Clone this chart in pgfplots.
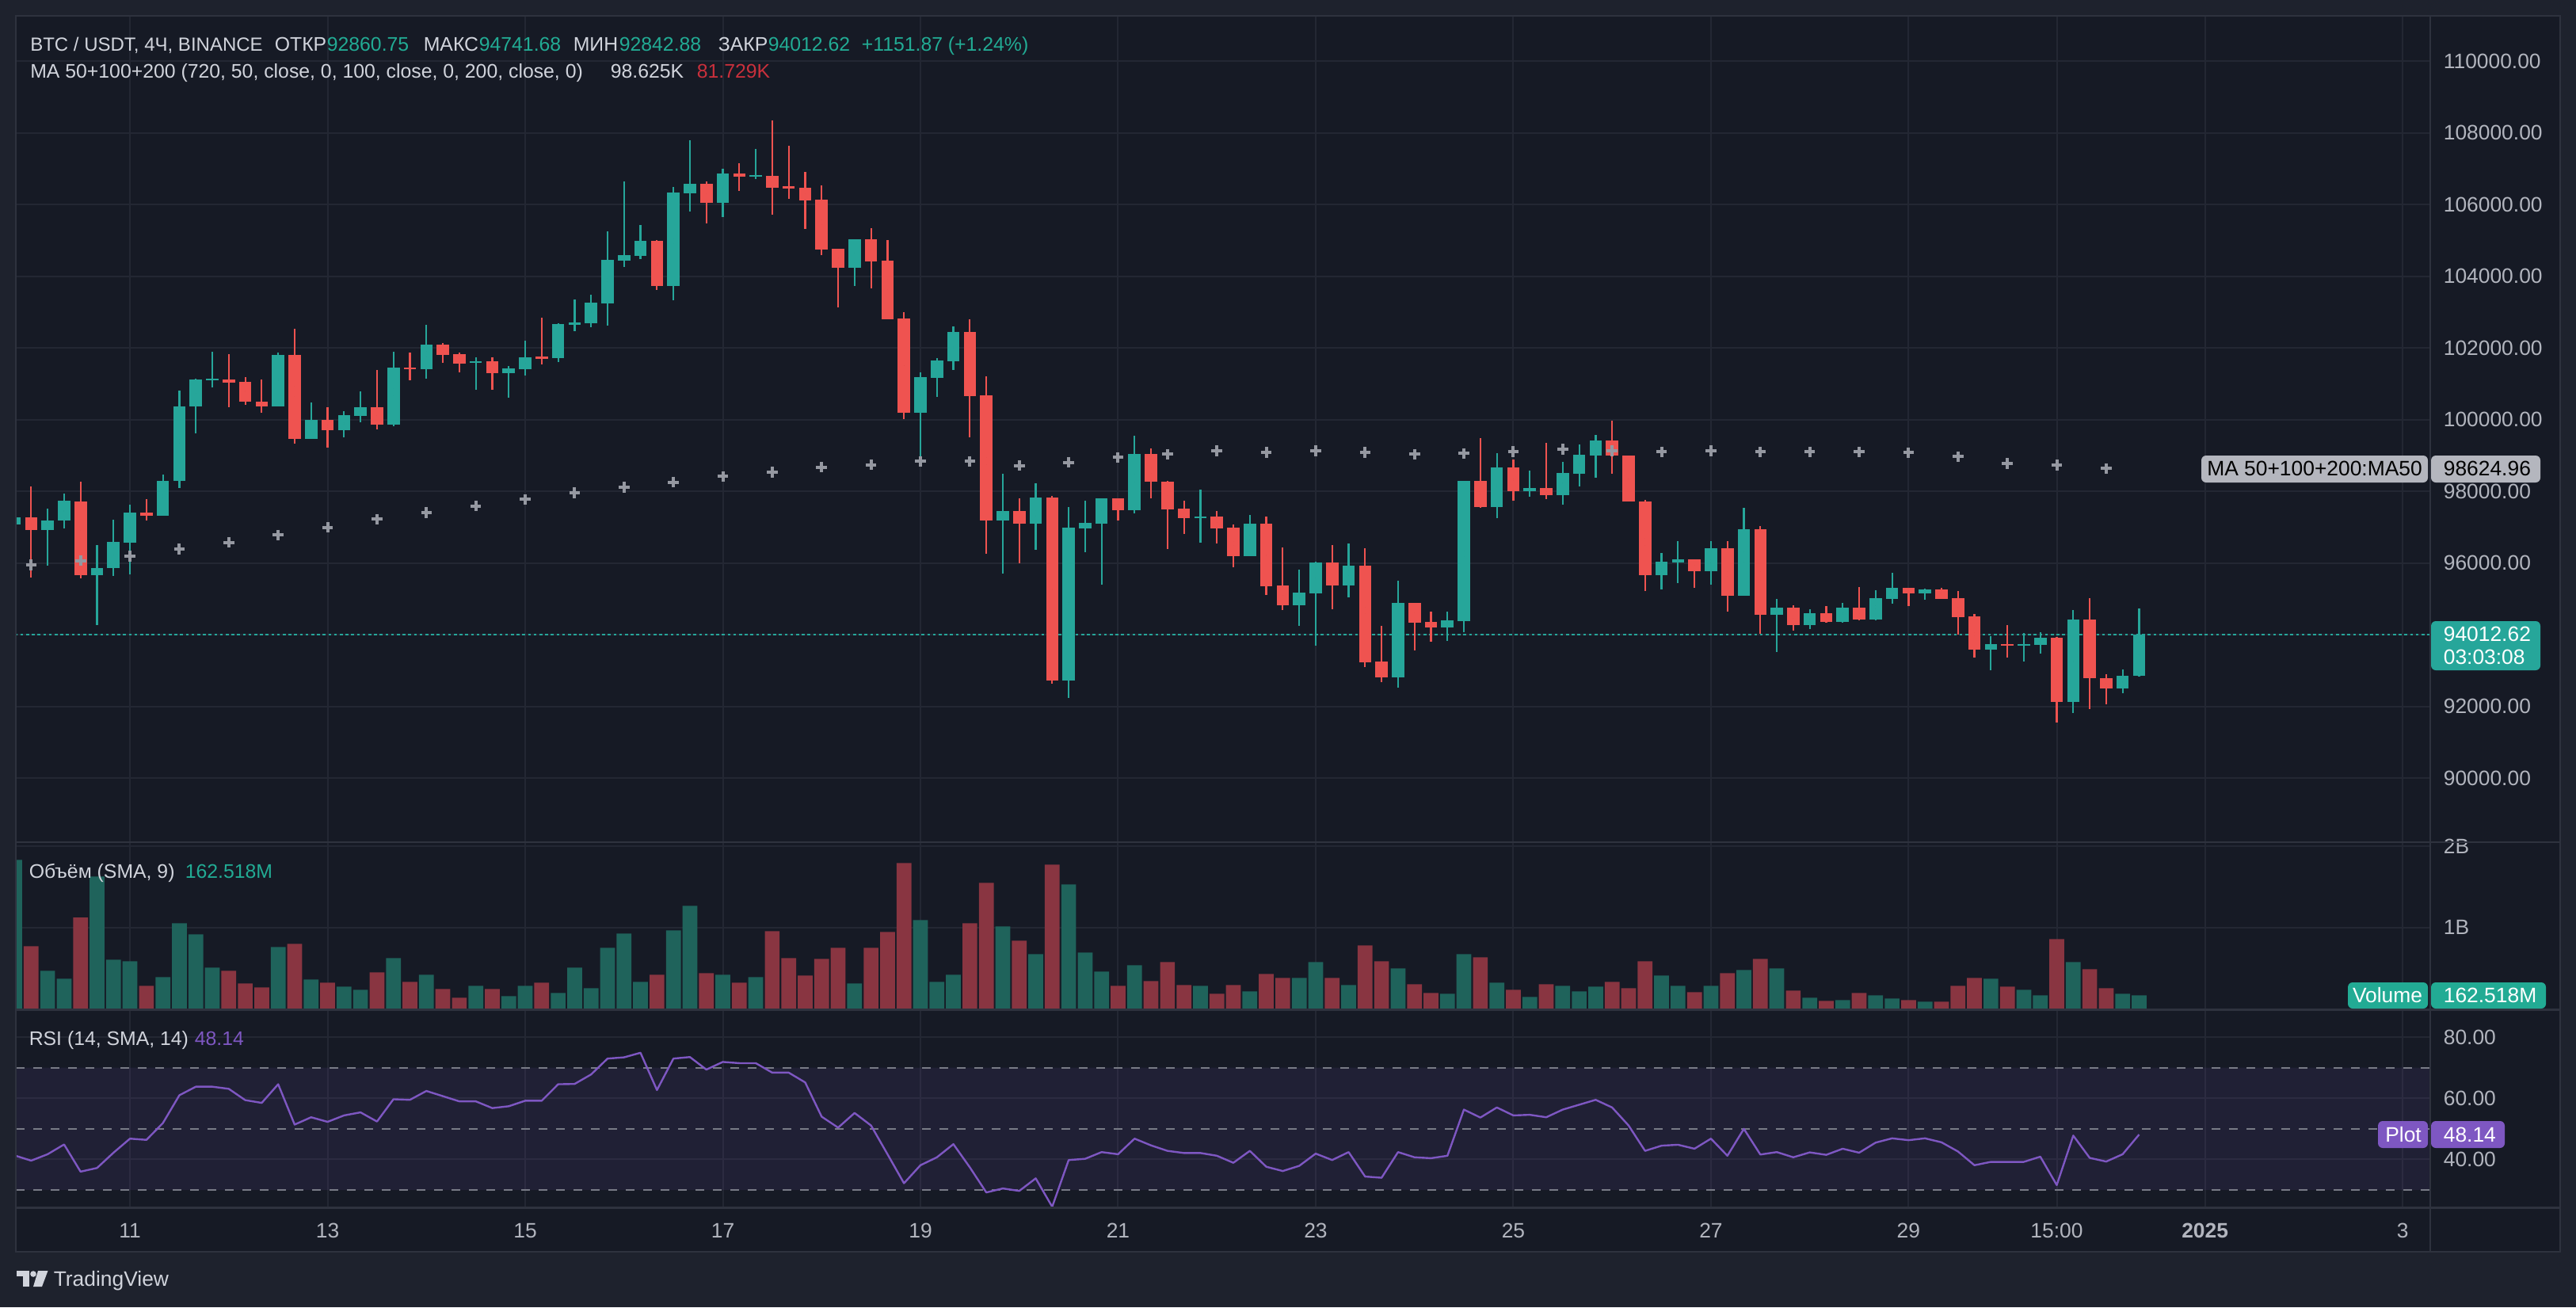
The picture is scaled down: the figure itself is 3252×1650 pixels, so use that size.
\documentclass[border=0pt]{standalone}
\usepackage{fontspec}
\setmainfont{Liberation Sans}
\usepackage{pgfplots}
\usepackage{pgfplotstable}
\pgfplotsset{compat=1.18}

\definecolor{bgout}{HTML}{1E222D}
\definecolor{bgpane}{HTML}{161A25}
\definecolor{gridc}{HTML}{232733}
\definecolor{sepc}{HTML}{2E323E}
\definecolor{upc}{HTML}{26A69A}
\definecolor{dnc}{HTML}{EF5350}
\definecolor{upv}{HTML}{1F635B}
\definecolor{dnv}{HTML}{893541}
\definecolor{txt}{HTML}{B2B5BE}
\definecolor{legtxt}{HTML}{D1D4DC}
\definecolor{tealtxt}{HTML}{22AB94}
\definecolor{redtxt}{HTML}{C9303C}
\definecolor{rsic}{HTML}{7E57C2}
\definecolor{dashc}{HTML}{787B86}
\definecolor{mac}{HTML}{9598A1}
\definecolor{tagg}{HTML}{B4B6BE}

\newcommand\lf{\fontsize{6.2}{7}\selectfont}
\newcommand\af{\fontsize{6.6}{8}\selectfont}

% i open high low close volume(B)
\pgfplotstableread{
i o h l c v
-7 97075 97350 96950 97278 1.834
-5 96917 97526 95924 97187 0.466
-4 97187 97943 96962 97729 0.368
-2 95654 96511 94267 95868 1.629
-1 95857 97210 95631 96601 0.603
0 96578 97638 95676 97413 0.583
2 97323 98473 97323 98292 0.388
3 98292 100818 98089 100378 1.052
4 100367 101145 99623 101123 0.916
5 101089 101901 100897 101145 0.505
9 100367 101878 100367 101811 0.759
11 99465 100491 99465 99995 0.358
13 99713 100243 99510 100130 0.270
14 100108 100796 99927 100356 0.231
16 99871 101901 99815 101461 0.622
18 101416 102656 101145 102104 0.417
21 101585 101743 100841 101630 0.280
23 101303 101506 100615 101438 0.153
24 101416 102205 101235 101743 0.280
26 101720 102701 101608 102679 0.192
27 102656 103355 102476 102713 0.505
28 102701 103491 102589 103265 0.251
29 103254 105261 102634 104460 0.749
30 104438 106648 104269 104596 0.925
31 104573 105441 104483 104990 0.329
33 103739 106501 103333 106343 0.964
34 106321 107798 105814 106580 1.268
36 106050 107009 105656 106873 0.417
38 106772 107561 106716 106828 0.388
44 104246 105035 103739 105035 0.310
48 100198 101326 98822 101190 1.092
49 101168 101720 100638 101653 0.329
50 101630 102611 101393 102453 0.417
53 97187 98495 95710 97458 1.013
55 97097 98236 96375 97830 0.671
57 92722 97571 92237 96996 1.531
58 96973 97740 96308 97131 0.691
59 97108 97808 95406 97808 0.456
61 97481 99555 97390 99048 0.534
65 97255 98056 96567 97300 0.280
68 96195 97345 96195 97108 0.212
71 94831 95823 94256 95180 0.378
72 95158 96048 93703 96026 0.573
74 95384 96556 95045 95936 0.290
77 92815 95519 92530 94898 0.495
80 94210 94650 93838 94413 0.182
81 94391 98292 94075 98292 0.671
83 97571 99071 97255 98676 0.319
85 98011 98586 97853 98101 0.143
87 97898 98834 97638 98518 0.280
88 98495 99319 98146 99025 0.212
89 99003 99578 98382 99420 0.270
93 95668 96287 95256 96044 0.407
94 96022 96619 95447 96110 0.280
96 95779 96619 95403 96420 0.280
98 95094 97547 95094 96950 0.476
100 94563 95005 93510 94762 0.495
102 94276 94718 94151 94607 0.134
104 94364 94895 94327 94762 0.104
106 94431 95248 94394 95027 0.163
107 95005 95734 94873 95315 0.124
109 95160 95293 94983 95270 0.085
113 93591 93952 93016 93745 0.368
115 93701 94055 93244 93745 0.231
116 93723 94077 93480 93922 0.163
118 92117 94696 91808 94431 0.573
121 92493 93038 92360 92861 0.182
122 92860.75 94741.68 92842.88 94012.62 0.1625
}\up

\pgfplotstableread{
i o h l c v
-6 97278 98146 95586 96917 0.769
-3 97729 98281 95564 95654 1.124
1 97413 97785 97199 97323 0.280
6 101123 101833 100345 101032 0.466
7 101044 101190 100424 100491 0.310
8 100502 101123 100187 100367 0.261
10 101811 102543 99330 99465 0.798
12 99995 100356 99217 99713 0.319
15 100356 101393 99725 99871 0.446
17 101461 101878 101100 101416 0.329
19 102104 102149 101596 101811 0.241
20 101833 101878 101326 101574 0.134
22 101630 101743 100841 101303 0.241
25 101765 102848 101551 101698 0.319
32 104990 105013 103626 103739 0.417
35 106580 106648 105475 106050 0.437
37 106873 107155 106389 106783 0.319
39 106806 108351 105723 106479 0.955
40 106501 107651 106163 106456 0.622
41 106479 106919 105329 106118 0.407
42 106141 106546 104596 104754 0.613
43 104776 104776 103141 104246 0.749
45 105035 105351 103671 104415 0.749
46 104438 105013 102803 102803 0.945
47 102826 103006 100006 100198 1.795
51 102453 102803 99510 100660 1.052
52 100683 101213 96263 97187 1.551
54 97458 97808 96003 97097 0.837
56 97830 97875 92632 92722 1.776
60 97808 97808 97187 97481 0.280
62 99048 99206 97808 98270 0.339
63 98270 98292 96398 97503 0.573
64 97526 97740 96815 97255 0.290
66 97300 97458 96556 96973 0.182
67 96996 97086 95890 96195 0.290
69 97108 97300 95113 95361 0.427
70 95384 96443 94695 94831 0.378
73 96026 96511 94718 95384 0.378
75 95936 96420 93106 93241 0.779
76 93264 94256 92688 92815 0.583
78 94898 94898 93568 94346 0.300
79 94368 94650 93816 94210 0.192
82 98292 99488 97548 97571 0.632
84 98676 98890 97740 98011 0.231
86 98101 99364 97785 97898 0.300
90 99420 99978 98482 98991 0.329
91 99005 99005 97709 97709 0.251
92 97724 97768 95211 95668 0.583
95 96110 96110 95315 95779 0.202
97 96420 96619 94651 95094 0.437
99 96950 97038 94018 94563 0.613
101 94762 94828 94106 94276 0.222
103 94607 94806 94327 94364 0.094
105 94762 95337 94409 94431 0.192
108 95315 95315 94806 95160 0.104
110 95270 95315 95005 95005 0.085
111 95027 95226 94011 94497 0.280
112 94519 94585 93370 93591 0.378
114 93745 94276 93370 93701 0.270
117 93922 93944 91543 92117 0.857
119 94431 95027 91918 92780 0.486
120 92795 92905 92051 92493 0.251
}\dn

\pgfplotstableread{
i m
-6 95947
-3 96070
0 96195
3 96398
6 96578
9 96782
12 96996
15 97221
18 97413
21 97593
24 97774
27 97965
30 98112
33 98259
36 98417
39 98540
42 98676
45 98743
48 98834
51 98834
54 98721
57 98811
60 98946
63 99036
66 99127
69 99093
72 99127
75 99093
78 99036
81 99059
84 99104
87 99170
90 99130
93 99101
96 99138
99 99101
102 99101
105 99101
108 99079
111 98969
114 98784
117 98733
120 98637
}\ma

\pgfplotstableread{
i r
-7 41.3
-6 39.6
-5 41.7
-4 44.9
-3 36.0
-2 37.2
-1 42.2
0 46.8
1 46.4
2 51.9
3 61.0
4 63.8
5 63.8
6 63.1
7 59.4
8 58.5
9 64.6
10 51.4
11 53.8
12 52.3
13 54.4
14 55.4
15 52.4
16 59.7
17 59.5
18 62.4
19 60.7
20 59.0
21 59.0
22 56.8
23 57.4
24 59.2
25 59.2
26 64.6
27 64.7
28 67.8
29 73.0
30 73.4
31 74.9
32 62.7
33 73.0
34 73.5
35 69.4
36 71.9
37 71.5
38 71.5
39 68.4
40 68.4
41 65.2
42 54.0
43 50.4
44 55.2
45 51.1
46 41.7
47 32.2
48 38.1
49 40.7
50 45.0
51 37.4
52 29.2
53 30.5
54 29.7
55 33.8
56 24.5
57 39.8
58 40.2
59 42.4
60 41.7
61 46.8
62 44.6
63 42.8
64 42.1
65 42.1
66 41.2
67 38.9
68 42.8
69 37.6
70 36.2
71 37.9
72 41.9
73 39.8
74 42.4
75 34.4
76 34.0
77 42.4
78 40.7
79 40.4
80 41.2
81 56.3
82 53.7
83 57.0
84 54.4
85 54.6
86 53.8
87 56.3
88 57.9
89 59.5
90 57.0
91 51.1
92 42.8
93 44.5
94 44.8
95 43.5
96 46.8
97 41.2
98 50.0
99 41.6
100 42.4
101 40.7
102 42.3
103 41.5
104 43.5
105 42.2
106 45.5
107 46.9
108 46.3
109 46.9
110 45.6
111 42.6
112 38.1
113 39.2
114 39.2
115 39.2
116 40.9
117 31.6
118 47.8
119 40.5
120 39.3
121 41.7
122 48.14
}\rsi

\pgfplotsset{
  tvpane/.style={
    scale only axis, width=762pt,
    xmin=-6.93, xmax=139.68,
    axis line style={draw=none},
    major tick length=0pt, tick style={draw=none},
    xtick={0,12,24,36,48,60,72,84,96,108,117,126,138},
    xticklabels={},
    xmajorgrids, ymajorgrids,
    grid style={gridc, line width=0.5pt},
    yticklabel pos=right,
    yticklabel style={anchor=west, inner sep=0pt, xshift=4pt},
    ticklabel style={font=\af, text=txt},
    /pgf/number format/assume math mode=true,
    scaled y ticks=false,
    clip=true,
  },
  wick/.style={only marks, mark size=0pt, mark options={draw=none, fill=none},
    error bars/.cd, y dir=both, y explicit, error mark=none,
    error bar style={line width=0.55pt, draw=#1}},
  body/.style={only marks, mark size=0pt, mark options={draw=none, fill=none},
    error bars/.cd, y dir=both, y explicit, error mark=none,
    error bar style={line width=3.9pt, draw=#1}},
}

\begin{document}
\begin{tikzpicture}
\begin{scope}[x=0.25pt,y=-0.25pt]
\fill[bgout] (0,0) rectangle (3252,1650);
\fill[bgpane] (20,20) rectangle (3232,1580);
\end{scope}

% ---------------- price pane
\begin{axis}[tvpane, at={(5pt,-5pt)}, anchor=north west, height=260.75pt,
  ymin=88215, ymax=111264,
  ytick={90000,92000,94000,96000,98000,100000,102000,104000,106000,108000,110000},
  y tick label style={/pgf/number format/fixed, /pgf/number format/fixed zerofill,
    /pgf/number format/precision=2, /pgf/number format/1000 sep={}},
]
\addplot[upc, line width=0.5pt, dash pattern=on 0.9pt off 0.9pt] coordinates {(-7,94012.62) (140,94012.62)};
\addplot[only marks, mark=+, mark size=1.7pt, mark options={line width=1.0pt, draw=mac}] table[x=i,y=m]{\ma};
\addplot[wick=upc] table[x=i, y expr={(\thisrow{h}+\thisrow{l})/2}, y error expr={(\thisrow{h}-\thisrow{l})/2}]{\up};
\addplot[wick=dnc] table[x=i, y expr={(\thisrow{h}+\thisrow{l})/2}, y error expr={(\thisrow{h}-\thisrow{l})/2}]{\dn};
\addplot[body=upc] table[x=i, y expr={(\thisrow{o}+\thisrow{c})/2}, y error expr={max(abs(\thisrow{o}-\thisrow{c})/2,25)}]{\up};
\addplot[body=dnc] table[x=i, y expr={(\thisrow{o}+\thisrow{c})/2}, y error expr={max(abs(\thisrow{o}-\thisrow{c})/2,25)}]{\dn};
\end{axis}

% ---------------- volume pane
\begin{axis}[tvpane, at={(5pt,-265.75pt)}, anchor=north west, height=52.875pt,
  ymin=-0.015, ymax=2.053, ytick={1,2}, yticklabels={1B,2B}]
\addplot[ybar, bar width=0.9, bar shift=0pt, fill=upv, draw=none] table[x=i,y=v]{\up};
\addplot[ybar, bar width=0.9, bar shift=0pt, fill=dnv, draw=none] table[x=i,y=v]{\dn};
\end{axis}

% ---------------- RSI pane
\begin{axis}[tvpane, at={(5pt,-318.625pt)}, anchor=north west, height=62.5pt,
  ymin=24.17, ymax=88.98, ytick={40,60,80},
  y tick label style={/pgf/number format/fixed, /pgf/number format/fixed zerofill,
    /pgf/number format/precision=2},
  xticklabels={11,13,15,17,19,21,23,25,27,29,15:00,\textbf{2025},3},
  xticklabel style={anchor=base, inner sep=0pt, yshift=-9.375pt},
]
\addplot[draw=none, fill=rsic, fill opacity=0.1] coordinates {(-7,30) (140,30) (140,70) (-7,70) (-7,30)};
\addplot[dashc, line width=0.5pt, dash pattern=on 2.75pt off 2.75pt] coordinates {(-6.93,70) (139.68,70)};
\addplot[dashc, line width=0.5pt, dash pattern=on 2.75pt off 2.75pt] coordinates {(-6.93,50) (139.68,50)};
\addplot[dashc, line width=0.5pt, dash pattern=on 2.75pt off 2.75pt] coordinates {(-6.93,30) (139.68,30)};
\addplot[rsic, line width=0.6pt, line join=round] table[x=i,y=r]{\rsi};
\end{axis}

\begin{scope}[x=0.25pt,y=-0.25pt]
% separators
\draw[sepc, line width=0.6pt] (20,20) rectangle (3232,1580);
\draw[sepc, line width=0.6pt] (3068,20) -- (3068,1580);
\draw[sepc, line width=0.6pt] (20,1063) -- (3232,1063);
\draw[sepc, line width=0.6pt] (20,1274.5) -- (3232,1274.5);
\draw[sepc, line width=0.6pt] (20,1524.5) -- (3232,1524.5);

% header
\begin{scope}[every node/.style={anchor=base west, inner sep=0pt}]
\node[text=legtxt] at (37.5,64) {\fontsize{6.0}{7}\selectfont BTC / USDT, 4Ч, BINANCE};
\node[text=legtxt] at (346,64) {\lf ОТКР};
\node[text=tealtxt] at (412,64) {\lf 92860.75};
\node[text=legtxt] at (534,64) {\lf МАКС};
\node[text=tealtxt] at (604,64) {\lf 94741.68};
\node[text=legtxt] at (723,64) {\lf МИН};
\node[text=tealtxt] at (781,64) {\lf 92842.88};
\node[text=legtxt] at (906,64) {\lf ЗАКР};
\node[text=tealtxt] at (969,64) {\lf 94012.62};
\node[text=tealtxt] at (1087,64) {\lf +1151.87 (+1.24\%)};
\node[text=legtxt] at (37.5,98) {\lf MA 50+100+200 (720, 50, close, 0, 100, close, 0, 200, close, 0)};
\node[text=legtxt] at (770,98) {\lf 98.625K};
\node[text=redtxt] at (879,98) {\lf 81.729K};
\node[text=legtxt] at (36,1108) {\lf Объём (SMA, 9)};
\node[text=tealtxt] at (233,1108) {\lf 162.518M};
\node[text=legtxt] at (36,1319) {\lf RSI (14, SMA, 14)};
\node[text=rsic] at (245,1319) {\lf 48.14};
\node[text=legtxt] at (67,1623) {\af TradingView};
\end{scope}

% logo
\fill[legtxt] (20.5,1604) rectangle (37,1611);
\fill[legtxt] (28.5,1604) rectangle (37,1624);
\fill[legtxt] (42,1608) circle (3.8);
\fill[legtxt] (48,1604) -- (60.5,1604) -- (53,1624) -- (42,1624) -- cycle;

% tags
\fill[tagg, rounded corners=1.5] (2779,575) rectangle (3065,609);
\fill[tagg, rounded corners=1.5] (3069,575) rectangle (3207,609);
\node[text=black, inner sep=0pt, anchor=base] at (2922,600) {\af MA 50+100+200:MA50};
\node[text=black, inner sep=0pt, anchor=base west] at (3084,600) {\af 98624.96};

\fill[upc, rounded corners=1.5] (3069,784) rectangle (3207,846);
\node[text=white, inner sep=0pt, anchor=base west] at (3084,809) {\af 94012.62};
\node[text=white, inner sep=0pt, anchor=base west] at (3084,838) {\af 03:03:08};

\fill[tealtxt, rounded corners=1.5] (2964,1240) rectangle (3065,1273);
\fill[tealtxt, rounded corners=1.5] (3069,1240) rectangle (3214,1273);
\node[text=white, inner sep=0pt, anchor=base] at (3014,1265) {\af Volume};
\node[text=white, inner sep=0pt, anchor=base west] at (3084,1265) {\af 162.518M};

\fill[rsic, rounded corners=1.5] (3002,1415) rectangle (3065,1449);
\fill[rsic, rounded corners=1.5] (3069,1415) rectangle (3162,1449);
\node[text=white, inner sep=0pt, anchor=base] at (3034,1441) {\af Plot};
\node[text=white, inner sep=0pt, anchor=base west] at (3084,1441) {\af 48.14};
\end{scope}
\end{tikzpicture}
\end{document}
